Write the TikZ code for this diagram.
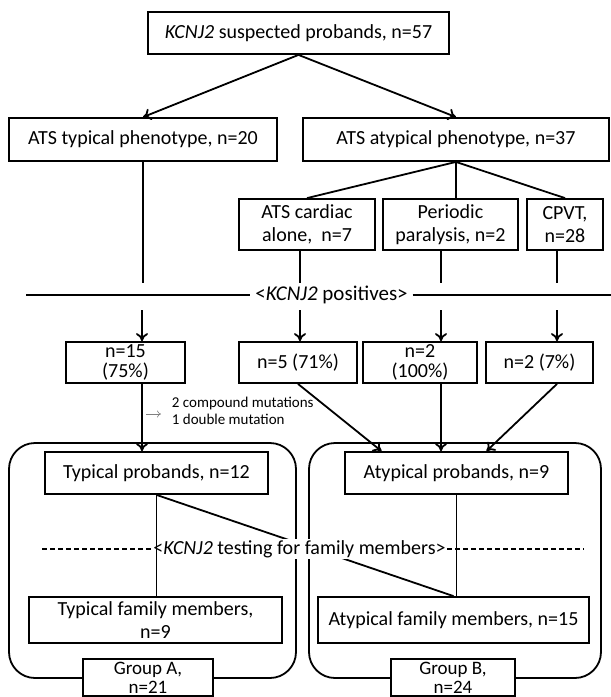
\documentclass[tikz,border=0pt]{standalone}
\usepackage{fontspec}
\setmainfont{Carlito}
\usetikzlibrary{positioning}
\usetikzlibrary{arrows.meta}

\begin{document}
\begin{tikzpicture}[x=1pt, y=-1pt, line width=1.8pt,
    >={To[length=8pt,width=12pt]},
    box/.style={draw, fill=white, align=center, inner sep=0pt,
        minimum height=43pt, font=\fontsize{20}{23}\selectfont},
    tight/.style={font=\fontsize{20}{20}\selectfont},
    grp/.style={draw, rounded corners=26pt, inner sep=0pt}]
\useasboundingbox (0,0) rectangle (611,697);

% Columns and cut lines
\coordinate (colA) at (142,0);
\coordinate (colB) at (300,0);
\coordinate (colC) at (441,0);
\coordinate (colD) at (557,0);
\coordinate (stop) at (0,283);
\coordinate (go) at (0,310);

% Suspected probands
\node[box, minimum width=301pt, minimum height=42pt] (suspect) at (298.5,33)
    {\textit{KCNJ2} suspected probands, n=57};

% Phenotypes
\node[box, minimum width=268pt] (typical) at (143,139.5) {ATS typical phenotype, n=20};
\node[box, minimum width=306pt] (atypical) at (456,139.5) {ATS atypical phenotype, n=37};

% Atypical subgroups
\node[box, minimum width=136pt, minimum height=51pt] (cardiac) at (307,224.5)
    {ATS cardiac\\alone,\ \ n=7};
\node[box, minimum width=135pt, minimum height=51pt] (periodic) at (450.5,224.5)
    {Periodic\\paralysis, n=2};
\node[box, minimum width=76pt, minimum height=51pt] (cpvt) at (565,224.5)
    {CPVT,\\n=28};

\draw[->] (suspect.south) -- (typical.north);
\draw[->] (suspect.south) -- (atypical.north);
\draw (atypical.south) -- (cardiac.north);
\draw (atypical.south) -- (atypical.south |- periodic.north);
\draw (atypical.south) -- (cpvt.north);

\draw (typical.south) -- (typical.south |- stop);
\draw (colB |- cardiac.south) -- (colB |- stop);
\draw (colC |- periodic.south) -- (colC |- stop);
\draw (colD |- cpvt.south) -- (colD |- stop);

% KCNJ2 positives
\node[font=\fontsize{21}{24}\selectfont, inner sep=4pt] (positives) at (331.5,295)
    {\textless\textit{KCNJ2} positives\textgreater};
\coordinate (posL) at (26,295);
\coordinate (posR) at (611,295);
\draw (posL) -- (positives.west);
\draw (positives.east) -- (posR);

% Positive counts
\node[box, tight, minimum width=119pt, minimum height=41pt] (pos15) at (125.5,362.5) {n=15\\(75\%)};
\node[box, tight, minimum width=118pt, minimum height=41pt] (pos5) at (298,362.5) {n=5 (71\%)};
\node[box, tight, minimum width=114pt, minimum height=41pt] (pos2p) at (420,362.5) {n=2\\(100\%)};
\node[box, tight, minimum width=107pt, minimum height=41pt] (pos2c) at (539.5,362.5) {n=2 (7\%)};

\draw[->] (colA |- go) -- (colA |- pos15.north);
\draw[->] (colB |- go) -- (colB |- pos5.north);
\draw[->] (colC |- go) -- (colC |- pos2p.north);
\draw[->] (colD |- go) -- (colD |- pos2c.north);

% Mutation note
\node[font=\fontsize{15}{17}\selectfont, align=left, anchor=west, inner sep=0pt] (mutations)
    at (171,411) {2 compound mutations\\1 double mutation};
\coordinate (mutFrom) at (146,414);
\coordinate (mutTo) at (161,414);
\draw[-{To[length=4pt,width=7pt]}, gray, line width=0.6pt] (mutFrom) -- (mutTo);

% Group containers
\node[grp, minimum width=287pt, minimum height=235pt] (groupAbox) at (152.5,560.5) {};
\node[grp, minimum width=292pt, minimum height=235pt] (groupBbox) at (455,560.5) {};

% Probands
\node[box, minimum width=223pt, minimum height=42pt] (typprob) at (156.5,473) {Typical probands, n=12};
\node[box, minimum width=223pt, minimum height=42pt] (atyprob) at (456.5,473) {Atypical probands, n=9};

\draw[->] (colA |- pos15.south) -- (colA |- typprob.north);
\draw[->] (pos5.south) -- ([xshift=-75pt]atyprob.north);
\draw[->] (colC |- pos2p.south) -- (colC |- atyprob.north);
\draw[->] (colD |- pos2c.south) -- ([xshift=30pt]atyprob.north);

% Family members
\node[box, minimum width=253pt, minimum height=46pt] (typfam) at (155.5,620)
    {Typical family members,\\n=9};
\node[box, minimum width=271pt, minimum height=46pt] (atyfam) at (453.5,620)
    {Atypical family members, n=15};

% Family testing
\draw (typprob.south) -- (atyfam.north);
\node[font=\fontsize{20}{23}\selectfont, fill=white, inner sep=1pt] (testing) at (299.5,549)
    {\textless\textit{KCNJ2} testing for family members\textgreater};
\coordinate (dashL) at (42,549);
\coordinate (dashR) at (584,549);
\draw[line width=1.2pt, dash pattern=on 5pt off 3pt] (dashL) -- (testing.west);
\draw[line width=1.2pt, dash pattern=on 5pt off 3pt] (testing.east) -- (dashR);
\draw (typprob.south) -- (typprob.south |- typfam.north);
\draw (atyprob.south) -- (atyprob.south |- atyfam.north);

% Groups
\node[box, font=\fontsize{19}{19}\selectfont, minimum width=130pt, minimum height=37pt] (groupA) at (148,677.5) {Group A,\\n=21};
\node[box, font=\fontsize{19}{19}\selectfont, minimum width=124pt, minimum height=37pt] (groupB) at (453,677.5) {Group B,\\n=24};

\end{tikzpicture}
\end{document}
